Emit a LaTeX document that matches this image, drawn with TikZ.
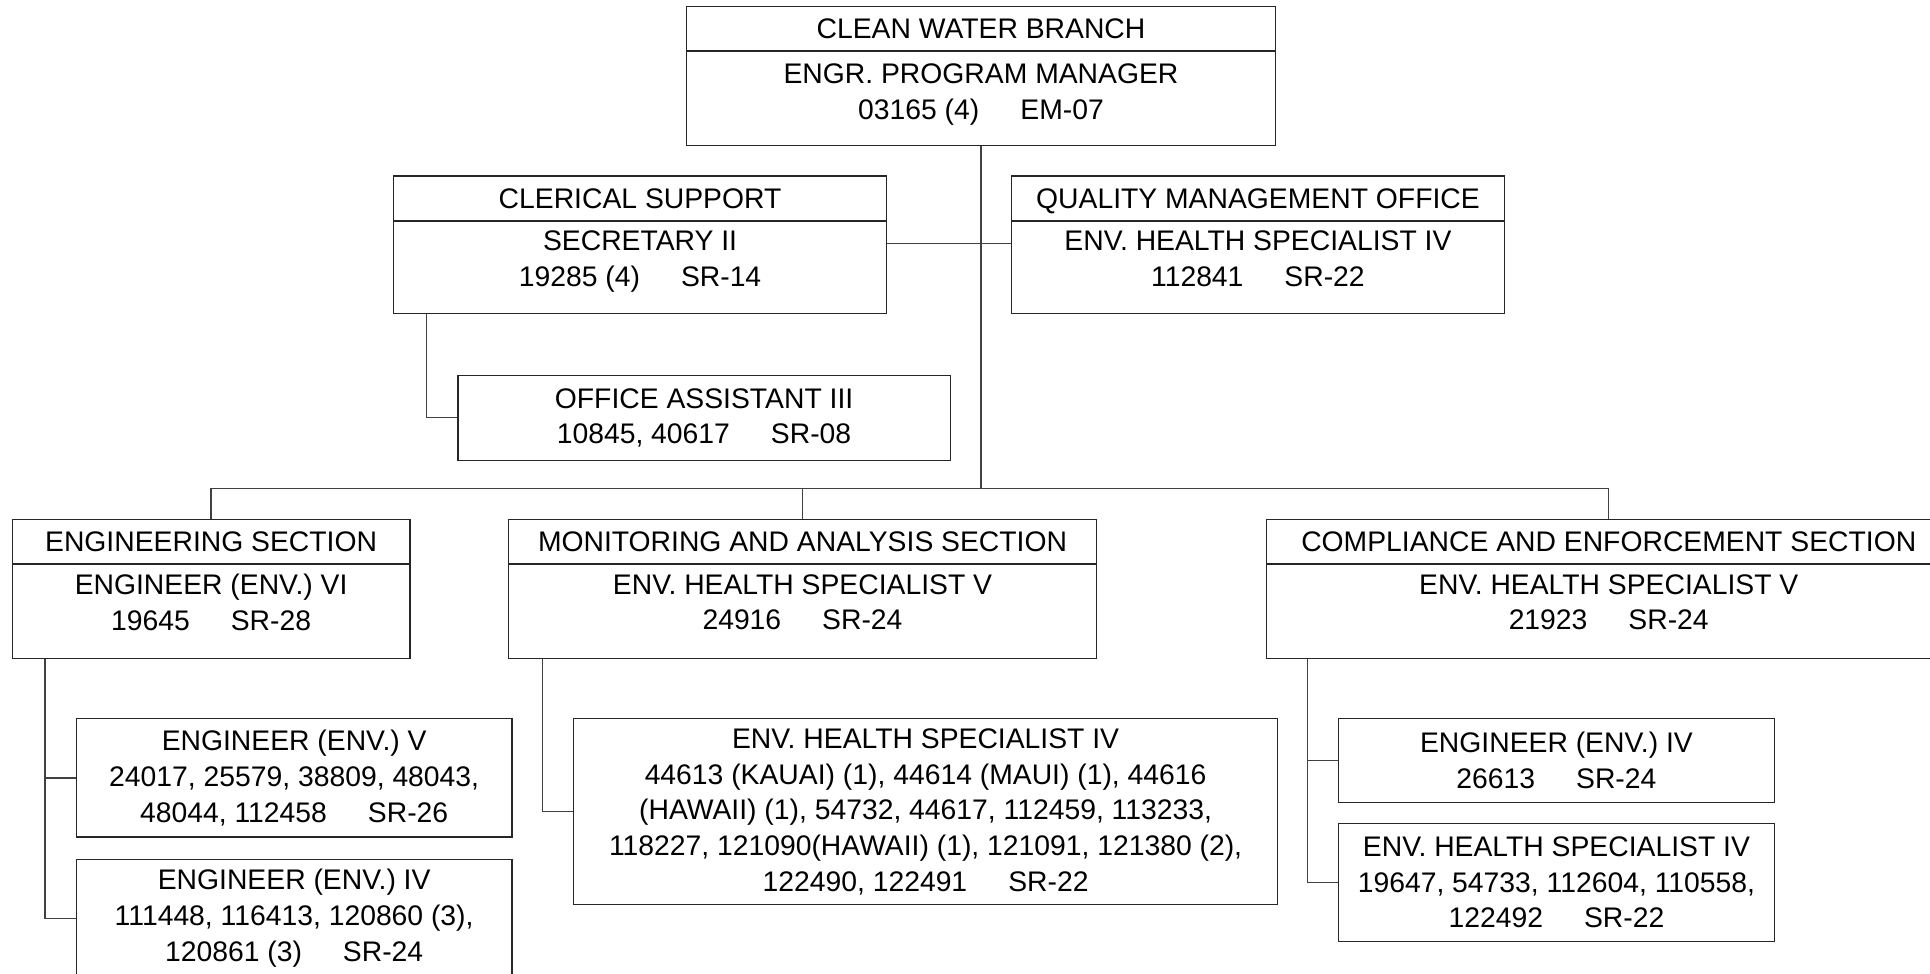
\documentclass[tikz,border=0pt]{standalone}
\usepackage{fontspec}
\setmainfont{Liberation Sans}
\usetikzlibrary{positioning}

\newcommand{\codegap}{\hspace{1.45em}}

\begin{document}
\begin{tikzpicture}[x=1pt, y=-1pt,
  every node/.style={font=\fontsize{23}{29}\selectfont, inner sep=0pt, align=center},
  box/.style={draw=black!85, line width=1pt, minimum height=#1},
  box/.default=36pt,
  head/.style={box=#1, text height=16.5pt, text depth=0pt},
  head/.default=36pt,
  wire/.style={draw=black!75, line width=1pt}]

\useasboundingbox (0,0) rectangle (1568,791);
\clip (0,0) rectangle (1568,791);

% branch head
\node[head, minimum width=478pt] (cwb) at (797,23) {CLEAN WATER BRANCH};
\node[box=76pt, minimum width=478pt, below=0pt of cwb] (cwbb) {};
\node[anchor=north] (cwbt) at ([yshift=-10pt]cwbb.north) {ENGR. PROGRAM MANAGER\\03165 (4)\codegap EM-07};

% staff offices
\node[head, minimum width=400pt] (cle) at (520,161) {CLERICAL SUPPORT};
\node[box=75pt, minimum width=400pt, below=0pt of cle] (cleb) {};
\node[anchor=north] (clet) at ([yshift=-8pt]cleb.north) {SECRETARY II\\19285 (4)\codegap SR-14};

\node[head, minimum width=400pt] (qmo) at (1022,161) {QUALITY MANAGEMENT OFFICE};
\node[box=75pt, minimum width=400pt, below=0pt of qmo] (qmob) {};
\node[anchor=north] (qmot) at ([yshift=-8pt]qmob.north) {ENV. HEALTH SPECIALIST IV\\112841\codegap SR-22};

\node[box=69pt, minimum width=400pt] (oa) at (572,339.5) {OFFICE ASSISTANT III\\10845, 40617\codegap SR-08};

% sections
\node[head=35.5pt, minimum width=323pt] (eng) at (171.5,439.75) {ENGINEERING SECTION};
\node[box=76.5pt, minimum width=323pt, below=0pt of eng] (engb) {};
\node[anchor=north] (engt) at ([yshift=-8.5pt]engb.north) {ENGINEER (ENV.) VI\\19645\codegap SR-28};

\node[head=35.5pt, minimum width=478pt] (mon) at (652,439.75) {MONITORING AND ANALYSIS SECTION};
\node[box=76.5pt, minimum width=478pt, below=0pt of mon] (monb) {};
\node[anchor=north] (mont) at ([yshift=-8.5pt]monb.north) {ENV. HEALTH SPECIALIST V\\24916\codegap SR-24};

\node[head=35.5pt, minimum width=556pt] (com) at (1307,439.75) {COMPLIANCE AND ENFORCEMENT SECTION};
\node[box=76.5pt, minimum width=556pt, below=0pt of com] (comb) {};
\node[anchor=north] (comt) at ([yshift=-8.5pt]comb.north) {ENV. HEALTH SPECIALIST V\\21923\codegap SR-24};

% positions under the sections
\node[box=96pt, minimum width=354pt] (engv) at (239,632) {ENGINEER (ENV.) V\\24017, 25579, 38809, 48043,\\48044, 112458\codegap SR-26};
\node[box=96pt, minimum width=354pt] (engiv) at (239,746) {ENGINEER (ENV.) IV\\111448, 116413, 120860 (3),\\120861 (3)\codegap SR-24};

\node[box=151pt, minimum width=572pt] (monehs) at (752,659.5) {ENV. HEALTH SPECIALIST IV\\44613 (KAUAI) (1), 44614 (MAUI) (1), 44616\\(HAWAII) (1), 54732, 44617, 112459, 113233,\\118227, 121090(HAWAII) (1), 121091, 121380 (2),\\122490, 122491\codegap SR-22};

\node[box=68pt, minimum width=354pt] (comeng) at (1264.5,618) {ENGINEER (ENV.) IV\\26613\codegap SR-24};
\node[box=96pt, minimum width=354pt] (comehs) at (1264.5,717) {ENV. HEALTH SPECIALIST IV\\19647, 54733, 112604, 110558,\\122492\codegap SR-22};

% connectors
\coordinate (bus) at (797,397);
\coordinate (sec) at (797,198);
\draw[wire] (cwbb.south) -- (bus);
\draw[wire] (cleb.east |- sec) -- (qmob.west |- sec);
\draw[wire] (eng.north) |- (bus) -| (com.north);
\draw[wire] (mon.north) -- (mon.north |- bus);

\draw[wire] ([xshift=27pt]cleb.south west) |- (oa.west);
\draw[wire] ([xshift=27pt]engb.south west) |- (engv.west);
\draw[wire] ([xshift=27pt]engb.south west) |- (engiv.west);
\draw[wire] ([xshift=28pt]monb.south west) |- (monehs.west);
\draw[wire] ([xshift=34pt]comb.south west) |- (comeng.west);
\draw[wire] ([xshift=34pt]comb.south west) |- (comehs.west);

\end{tikzpicture}
\end{document}
